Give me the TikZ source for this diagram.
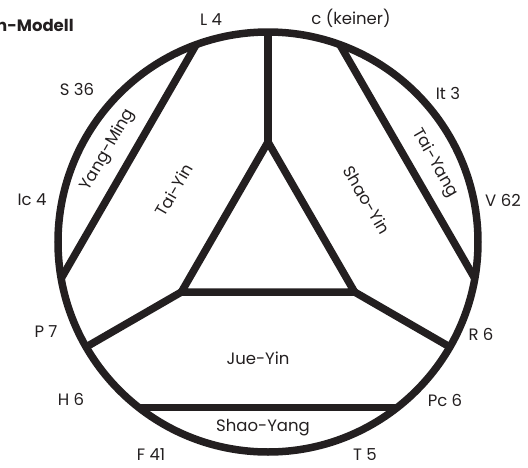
\documentclass[tikz,border=0pt]{standalone}
\usepackage{fontspec}
\setmainfont{Poppins}[BoldFont={Poppins Bold}]
\usetikzlibrary{positioning}
\definecolor{ink}{HTML}{231F20}

\begin{document}
\begin{tikzpicture}[
    x=1pt, y=1pt,
    font=\fontsize{16.5}{20}\selectfont,
    ring/.style={draw=ink, line width=7.5pt, line join=miter},
    pt/.style={text=ink, inner sep=0pt},
    zone/.style={text=ink, inner sep=0pt, rotate=#1},
    zone/.default=0,
]
\useasboundingbox (-268,-225) rectangle (260,242);

% ---------------------------------------------------------------- frame
\coordinate (c)  at (0,0);
\coordinate (tA) at (90:100);
\coordinate (tB) at (210:100);
\coordinate (tC) at (330:100);
\coordinate (sA) at (90:210);
\coordinate (sB) at (210:210);
\coordinate (sC) at (330:210);
\coordinate (ym1) at (110:210);
\coordinate (ym2) at (190:210);
\coordinate (ty1) at (70:210);
\coordinate (ty2) at (-10:210);
\coordinate (sy1) at (232:210);
\coordinate (sy2) at (308:210);

\draw [ring] (c) circle (210);
\draw [ring] (tA) -- (tB) -- (tC) -- cycle;
\draw [ring] (tA) -- (sA);
\draw [ring] (tB) -- (sB);
\draw [ring] (tC) -- (sC);
\draw [ring] (ym1) -- (ym2);
\draw [ring] (ty1) -- (ty2);
\draw [ring] (sy1) -- (sy2);

% ---------------------------------------------------------------- zones
\node (taiyin)   [zone=60]  at (-94,52)   {Tai-Yin};
\node (shaoyin)  [zone=-60] at (99,42)    {Shao-Yin};
\node (yangming) [zone=60]  at (-160,92)  {Yang-Ming};
\node (taiyang)  [zone=-60] at (167,79)   {Tai-Yang};
\node (jueyin)   [zone]     at (-10,-116) {Jue-Yin};
\node (shaoyang) [zone]     at (-5,-186)  {Shao-Yang};

% ---------------------------------------------------------------- points
\node (pL)  [pt] at (-57,222)  {L 4};
\node (pC)  [pt] at (83,224)   {c (keiner)};
\node (pS)  [pt] at (-191,153) {S 36};
\node (pIt) [pt] at (180,149)  {It 3};
\node (pIc) [pt] at (-236,42)  {Ic 4};
\node (pV)  [pt] at (235,42)   {V 62};
\node (pP)  [pt] at (-222,-90) {P 7};
\node (pR)  [pt] at (213,-92)  {R 6};
\node (pH)  [pt] at (-197,-157) {H 6};
\node (pPc) [pt] at (177,-158) {Pc 6};
\node (pF)  [pt] at (-117,-213) {F 41};
\node (pT)  [pt] at (97,-213)  {T 5};

\node (title) [pt, anchor=west, font=\fontsize{16.5}{20}\selectfont\bfseries] at (-272,217) {n-Modell};

\end{tikzpicture}
\end{document}
